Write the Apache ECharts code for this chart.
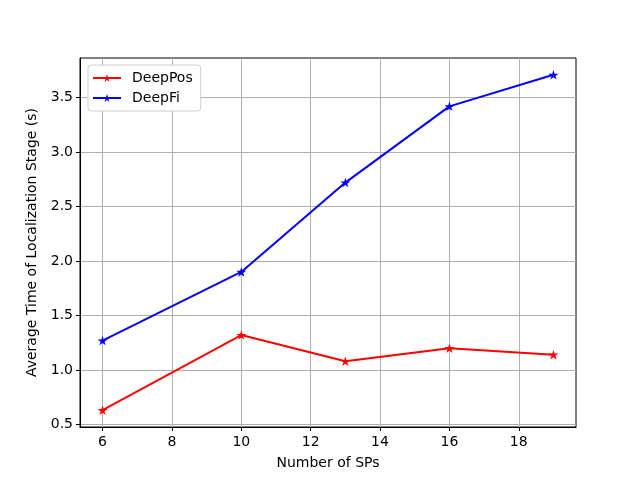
<!DOCTYPE html>
<html><head><meta charset="utf-8">
<script src="https://cdn.jsdelivr.net/npm/echarts@6/dist/echarts.min.js"></script>
<style>html,body{margin:0;padding:0;background:#fff}#c{width:640px;height:480px}</style>
</head><body><div id="c"></div>
<script>
const xValues = [6, 10, 13, 16, 19];
const deepPos = [0.63, 1.32, 1.08, 1.20, 1.14];
const deepFi = [1.27, 1.90, 2.72, 3.42, 3.71];
const xTicks = [6, 8, 10, 12, 14, 16, 18];
const yTicks = [0.5, 1.0, 1.5, 2.0, 2.5, 3.0, 3.5];
const seriesNames = ['DeepPos', 'DeepFi'];

const star = 'path://M100 0 L122.45 69.1 L195.1 69.1 L136.3 111.8 L158.8 180.9 L100 138.2 L41.2 180.9 L63.7 111.8 L4.9 69.1 L77.55 69.1 Z';
const font = 'DejaVu Sans';

function pad(arr, frac) {
  const lo = Math.min(...arr), hi = Math.max(...arr), r = hi - lo;
  return [lo - r * frac, hi + r * frac];
}
const [xmin, xmax] = pad(xValues, 0.05);
const [ymin, ymax] = pad(deepPos.concat(deepFi), 0.05);

const chart = echarts.init(document.getElementById('c'));
chart.setOption({
  animation: false,
  backgroundColor: '#fff',
  textStyle: { fontFamily: font },
  grid: { left: 80, right: 64, top: 58, bottom: 53, show: true, borderColor: '#000', borderWidth: 1, backgroundColor: 'transparent' },
  legend: {
    orient: 'vertical', left: 88, top: 65,
    data: seriesNames,
    itemWidth: 28, itemHeight: 10, itemGap: 6,
    textStyle: { fontFamily: font, fontSize: 14, color: '#000', padding: [0, 0, 0, 6] },
    backgroundColor: '#fff', borderColor: '#d0d0d0', borderWidth: 1, borderRadius: 3,
    padding: [6, 8, 6, 4]
  },
  xAxis: {
    type: 'value', min: xmin, max: xmax,
    name: 'Number of SPs', nameLocation: 'middle', nameGap: 29,
    nameTextStyle: { fontFamily: font, fontSize: 14, color: '#000' },
    axisLine: { show: true, onZero: false, lineStyle: { color: '#000', width: 1 } },
    axisTick: { show: true, customValues: xTicks, length: 4, inside: false, lineStyle: { color: '#000' } },
    axisLabel: { customValues: xTicks, color: '#000', fontSize: 14, fontFamily: font, margin: 8 },
    splitLine: { show: true, lineStyle: { color: '#b0b0b0', width: 1 } }
  },
  yAxis: {
    type: 'value', min: ymin, max: ymax,
    name: 'Average Time of Localization Stage (s)', nameLocation: 'middle', nameGap: 38,
    nameTextStyle: { fontFamily: font, fontSize: 14, color: '#000' },
    axisLine: { show: true, onZero: false, lineStyle: { color: '#000', width: 1 } },
    axisTick: { show: true, customValues: yTicks, length: 4, inside: false, lineStyle: { color: '#000' } },
    axisLabel: { customValues: yTicks, color: '#000', fontSize: 14, fontFamily: font, margin: 7,
      formatter: v => v.toFixed(1) },
    splitLine: { show: true, lineStyle: { color: '#b0b0b0', width: 1 } }
  },
  series: [
    { name: seriesNames[0], type: 'line', data: xValues.map((x, i) => [x, deepPos[i]]),
      symbol: star, symbolSize: 10, symbolKeepAspect: true,
      lineStyle: { color: '#ff0000', width: 2 }, itemStyle: { color: '#ff0000' } },
    { name: seriesNames[1], type: 'line', data: xValues.map((x, i) => [x, deepFi[i]]),
      symbol: star, symbolSize: 10, symbolKeepAspect: true,
      lineStyle: { color: '#0000ff', width: 2 }, itemStyle: { color: '#0000ff' } }
  ]
});
</script></body></html>
